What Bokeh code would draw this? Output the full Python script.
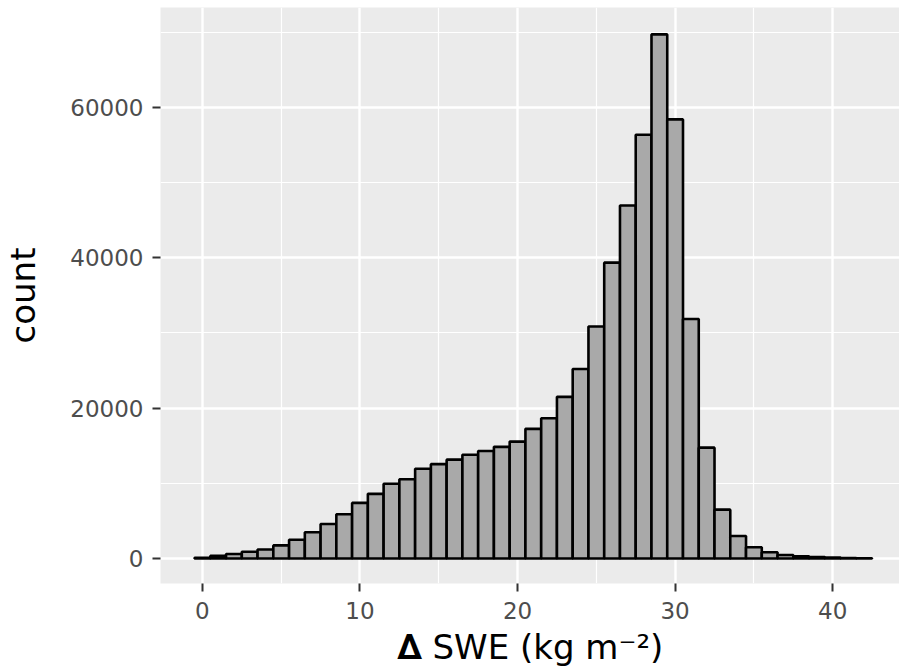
from bokeh.plotting import figure
from bokeh.models import FixedTicker, ColumnDataSource, NumeralTickFormatter
from bokeh.embed import file_html
from bokeh.resources import INLINE

# Histogram of Delta SWE, bins of width 1 centred on integers
bin_centers = [0, 1, 2, 3, 4, 5, 6, 7, 8, 9, 10, 11, 12, 13, 14, 15, 16, 17, 18, 19, 20,
               21, 22, 23, 24, 25, 26, 27, 28, 29, 30, 31, 32, 33, 34, 35, 36, 37, 38, 39,
               40, 41, 42]
counts = [100, 350, 600, 900, 1200, 1750, 2500, 3500, 4600, 5900, 7400, 8600, 9950,
          10550, 11950, 12550, 13150, 13800, 14300, 14850, 15550, 17250, 18650, 21500,
          25200, 30850, 39350, 46950, 56350, 69700, 58400, 31850, 14750, 6500, 3000,
          1500, 830, 480, 300, 200, 130, 60, 30]
bin_width = 1.0

x_ticks = [0, 10, 20, 30, 40]
x_minor = [5, 15, 25, 35]
y_ticks = [0, 20000, 40000, 60000]
y_minor = [10000, 30000, 50000, 70000]

src = ColumnDataSource(dict(
    left=[c - bin_width / 2 for c in bin_centers],
    right=[c + bin_width / 2 for c in bin_centers],
    top=counts,
    bottom=[0] * len(counts),
))

FONT = "DejaVu Sans"

p = figure(width=899, height=669, output_backend="svg", toolbar_location=None,
           x_range=(-2.66, 44.24), y_range=(-3319, 73280),
           min_border_left=158, min_border_right=0, min_border_top=7,
           min_border_bottom=85)

p.background_fill_color = "#EBEBEB"
p.border_fill_color = "white"
p.outline_line_color = None

p.quad(left="left", right="right", top="top", bottom="bottom", source=src,
       fill_color="#A9A9A9", line_color="black", line_width=2.6)

for ax in (p.xaxis[0], p.yaxis[0]):
    ax.axis_line_color = None
    ax.major_tick_line_color = "#333333"
    ax.major_tick_line_width = 2
    ax.major_tick_out = 8
    ax.major_tick_in = 0
    ax.minor_tick_line_color = None
    ax.major_label_text_color = "#4D4D4D"
    ax.major_label_text_font = FONT
    ax.major_label_text_font_size = "23px"
    ax.axis_label_text_font = FONT
    ax.axis_label_text_font_size = "34px"
    ax.axis_label_text_font_style = "normal"
    ax.axis_label_text_color = "black"

p.xaxis.ticker = FixedTicker(ticks=x_ticks, minor_ticks=x_minor)
p.yaxis.ticker = FixedTicker(ticks=y_ticks, minor_ticks=y_minor)
p.yaxis.formatter = NumeralTickFormatter(format="0")

p.xaxis.axis_label = "\U0001D6AB SWE (kg m\u207b\u00b2)"
p.yaxis.axis_label = "count"
p.xaxis.major_label_standoff = 10
p.yaxis.major_label_standoff = 9
p.xaxis.axis_label_standoff = 5
p.yaxis.axis_label_standoff = 24

for g in (p.xgrid[0], p.ygrid[0]):
    g.grid_line_color = "white"
    g.grid_line_width = 2.4
    g.minor_grid_line_color = "white"
    g.minor_grid_line_width = 1.2

p.xgrid.ticker = FixedTicker(ticks=x_ticks, minor_ticks=x_minor)
p.ygrid.ticker = FixedTicker(ticks=y_ticks, minor_ticks=y_minor)

open("out.html", "w").write(file_html(p, INLINE))
